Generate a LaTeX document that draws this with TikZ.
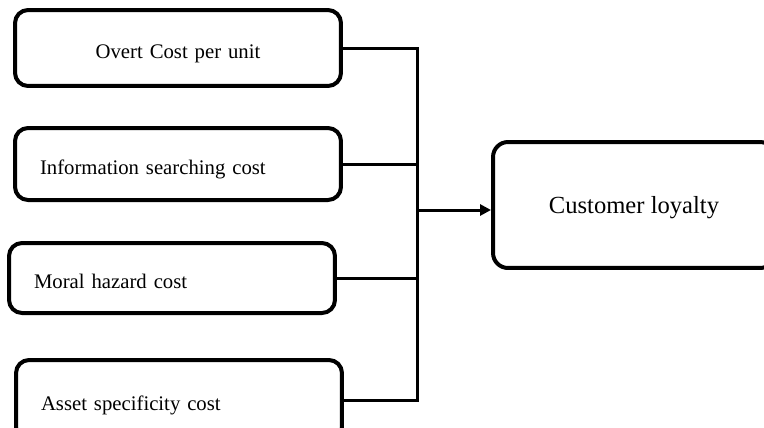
\documentclass[tikz,border=0pt]{standalone}
\usepackage{fontspec}
\setmainfont{Liberation Serif}
\usetikzlibrary{arrows.meta, positioning, calc}

\begin{document}
\begin{tikzpicture}[x=0.02cm, y=-0.02cm,
  box/.style={rectangle, rounded corners=0.26cm, draw, line width=0.08cm, minimum width=6.52cm, inner xsep=0.5cm, text width=5.52cm, text height=0.42cm, text depth=0cm, align=left, font=\fontsize{11.8}{14}\selectfont},
  goal/.style={rectangle, rounded corners=0.3cm, draw, line width=0.08cm, minimum width=5.64cm, minimum height=2.52cm, text depth=0cm, align=center, font=\fontsize{14}{17}\selectfont},
  link/.style={line width=0.06cm},
  arr/.style={-{Triangle[length=2.2mm, width=2.2mm]}, line width=0.06cm}
]
\useasboundingbox (0,0) rectangle (764,427);
\node[box, align=center, minimum height=1.52cm] (overt) at (178,48) {Overt Cost per unit};
\node[box, minimum height=1.44cm] (info) at (178,164) {Information searching cost};
\node[box, minimum height=1.40cm] (moral) at (172,278) {Moral hazard cost};
\node[box, minimum height=1.60cm] (asset) at (179,400) {Asset specificity cost};
\node[goal] (loyalty) at (634,205) {Customer loyalty};
\coordinate (bus) at (417,210);
\draw[link] (overt.east) -| (bus);
\draw[link] (asset.east) -| (bus);
\draw[link] (info.east) -- (info.east -| bus);
\draw[link] (moral.east) -- (moral.east -| bus);
\draw[arr] (bus) -- (bus -| loyalty.west);
\end{tikzpicture}
\end{document}
